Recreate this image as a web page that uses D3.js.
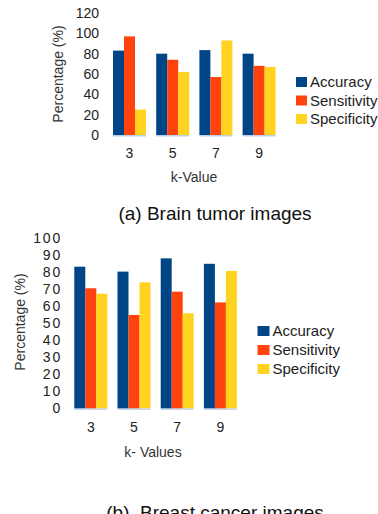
<!DOCTYPE html>
<html>
<head>
<meta charset="utf-8">
<script src="https://cdn.jsdelivr.net/npm/d3@7"></script>
<style>
  body { margin: 0; background: #fff; }
  svg { display: block; }
  svg text { font-family: "Liberation Sans", Arial, sans-serif; }
  .tick line, .domain { display: none; }
</style>
</head>
<body>
<svg width="378" height="514"></svg>
<script>
const kValues = ['3', '5', '7', '9']
const series = ['Accuracy', 'Sensitivity', 'Specificity']
const colors = ['#004586', '#ff420e', '#ffd320']

// (a) brain tumor
const brainAccuracy = [83, 80, 83.5, 80]
const brainSensitivity = [97, 74, 57, 68]
const brainSpecificity = [25, 62, 93, 67]
const brainTicks = [0, 20, 40, 60, 80, 100, 120]

// (b) breast cancer
const breastAccuracy = [83.3, 80.4, 88.2, 85]
const breastSensitivity = [70.6, 54.9, 68.6, 62.3]
const breastSpecificity = [67.4, 74.1, 55.9, 80.8]
const breastTicks = [0, 10, 20, 30, 40, 50, 60, 70, 80, 90, 100]

const svg = d3.select('svg')
svg.append('rect').attr('width', 378).attr('height', 514).attr('fill', '#fff')

function drawChart(cfg) {
  const g = svg.append('g')
  const rows = kValues.map((k, i) => ({k, vals: cfg.values.map(v => v[i])}))

  const x = d3.scaleBand()
    .domain(kValues)
    .range(cfg.xRange)
    .paddingInner(0.236)
    .paddingOuter(0.118)

  const xs = d3.scaleBand()
    .domain(series)
    .range([0, x.bandwidth()])

  const y = d3.scaleLinear()
    .domain([0, cfg.max])
    .range(cfg.yRange)

  const groups = g.selectAll('g.grp')
    .data(rows)
    .join('g')
    .attr('class', 'grp')
    .attr('transform', d => `translate(${x(d.k)},0)`)

  // faint light-blue shadow at the base of each group
  groups.append('rect')
    .attr('x', 0)
    .attr('y', y(0))
    .attr('width', x.bandwidth())
    .attr('height', 1.5)
    .attr('fill', '#b8d2ec')

  groups.selectAll('rect.bar')
    .data(d => d.vals.map((v, i) => ({s: series[i], v, c: colors[i]})))
    .join('rect')
    .attr('class', 'bar')
    .attr('x', d => xs(d.s))
    .attr('y', d => y(d.v))
    .attr('width', xs.bandwidth())
    .attr('height', d => y(0) - y(d.v))
    .attr('fill', d => d.c)

  g.append('g')
    .attr('transform', `translate(0,${y(0)})`)
    .call(d3.axisBottom(x).tickSize(0).tickPadding(cfg.xPad))
    .attr('font-family', null)
    .call(a => a.selectAll('text').attr('font-size', 14).attr('fill', '#222'))

  g.append('g')
    .attr('transform', `translate(${cfg.yAxisX},0)`)
    .call(d3.axisLeft(y).tickValues(cfg.ticks).tickSize(0).tickPadding(6))
    .attr('font-family', null)
    .call(a => a.selectAll('text')
      .attr('font-size', cfg.yFont)
      .attr('letter-spacing', cfg.yLetter)
      .attr('fill', '#222'))

  g.append('text')
    .attr('transform', `translate(${cfg.yLabelX},${cfg.yLabelY}) rotate(-90)`)
    .attr('text-anchor', 'middle')
    .attr('dy', '0.35em')
    .attr('font-size', 14)
    .attr('fill', '#333')
    .text('Percentage (%)')

  g.append('text')
    .attr('x', cfg.xLabelX)
    .attr('y', cfg.xLabelY)
    .attr('text-anchor', 'middle')
    .attr('dy', '0.35em')
    .attr('font-size', 14)
    .attr('fill', '#333')
    .text(cfg.xLabel)

  const leg = g.selectAll('g.leg')
    .data(series)
    .join('g')
    .attr('class', 'leg')
    .attr('transform', (d, i) => `translate(${cfg.legX},${cfg.legY + i * cfg.legStep})`)
  leg.append('rect')
    .attr('width', cfg.legW)
    .attr('height', 10)
    .attr('fill', (d, i) => colors[i])
  leg.append('text')
    .attr('x', cfg.legW + 3)
    .attr('y', 5)
    .attr('dy', '0.35em')
    .attr('font-size', 15)
    .attr('fill', '#222')
    .text(d => d)

  svg.append('text')
    .attr('x', 215)
    .attr('y', cfg.captionY)
    .attr('text-anchor', 'middle')
    .attr('font-size', 19)
    .attr('fill', '#111')
    .style('white-space', 'pre')
    .text(cfg.caption)
}

drawChart({
  values: [brainAccuracy, brainSensitivity, brainSpecificity],
  max: 120, ticks: brainTicks,
  xRange: [107.9, 280.7], yRange: [135, 13],
  xPad: 12.8, yAxisX: 105, yFont: 14, yLetter: 0,
  yLabelX: 58, yLabelY: 74,
  xLabel: 'k-Value', xLabelX: 194, xLabelY: 177,
  legX: 296, legY: 77, legStep: 18.5, legW: 11,
  caption: '(a) Brain tumor images', captionY: 220
})

drawChart({
  values: [breastAccuracy, breastSensitivity, breastSpecificity],
  max: 100, ticks: breastTicks,
  xRange: [69.2, 242], yRange: [408.3, 238.3],
  xPad: 14, yAxisX: 68, yFont: 14, yLetter: 1.8,
  yLabelX: 20, yLabelY: 322,
  xLabel: 'k- Values', xLabelX: 153, xLabelY: 452,
  legX: 257.5, legY: 326, legStep: 19, legW: 12,
  caption: '(b)  Breast cancer images', captionY: 519
})
</script>
</body>
</html>
